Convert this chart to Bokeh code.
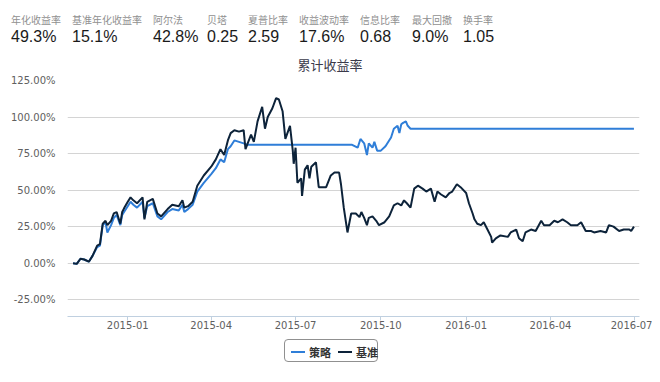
import pandas as pd
from bokeh.plotting import figure
from bokeh.models import (FixedTicker, Div, Range1d, ColumnDataSource)
from bokeh.layouts import column
from bokeh.embed import file_html
from bokeh.resources import INLINE

# ---------------- data ----------------
metric_names = ["年化收益率", "基准年化收益率", "阿尔法", "贝塔", "夏普比率", "收益波动率", "信息比率", "最大回撤", "换手率"]
metric_values = ["49.3%", "15.1%", "42.8%", "0.25", "2.59", "17.6%", "0.68", "9.0%", "1.05"]

chart_title = "累计收益率"
series_names = ["策略", "基准"]
series_colors = ["#2f7ed8", "#0d233a"]

strategy_dates = [
    "2014-11-03", "2014-11-07", "2014-11-11", "2014-11-15", "2014-11-20", "2014-11-24", "2014-11-29",
    "2014-12-02", "2014-12-05", "2014-12-08", "2014-12-10", "2014-12-14", "2014-12-17", "2014-12-20",
    "2014-12-24", "2014-12-26", "2014-12-28", "2015-01-01", "2015-01-04", "2015-01-07", "2015-01-11",
    "2015-01-17", "2015-01-19", "2015-01-22", "2015-01-28", "2015-02-02", "2015-02-06", "2015-02-13",
    "2015-02-18", "2015-02-25", "2015-03-01", "2015-03-03", "2015-03-07", "2015-03-12", "2015-03-17",
    "2015-03-24", "2015-04-01", "2015-04-06", "2015-04-11", "2015-04-15", "2015-04-19", "2015-04-22",
    "2015-04-26", "2015-05-01", "2015-05-06", "2015-05-10", "2015-08-31", "2015-09-06", "2015-09-09",
    "2015-09-13", "2015-09-16", "2015-09-18", "2015-09-22", "2015-09-24", "2015-09-27", "2015-10-01",
    "2015-10-06", "2015-10-12", "2015-10-15", "2015-10-19", "2015-10-21", "2015-10-23", "2015-10-25",
    "2015-10-28", "2015-10-30", "2015-11-02", "2016-06-30",
]
strategy_values = [
    0, -0.5, 3, 2.5, 1, 5, 11,
    12, 26, 28, 21, 26, 31, 33,
    26, 33, 35, 39, 42, 40, 38,
    42, 31, 39, 41, 32, 30, 35,
    37, 36, 40, 35, 37, 40, 49,
    55, 61, 65, 71, 69, 78, 80,
    84, 83, 82, 81, 81, 79, 85,
    82, 74, 82, 79, 83, 77, 77,
    80, 86, 92, 94, 89, 95, 96,
    97, 94, 92, 92,
]

benchmark_dates = [
    "2014-11-03", "2014-11-07", "2014-11-11", "2014-11-15", "2014-11-20", "2014-11-24", "2014-11-29",
    "2014-12-02", "2014-12-05", "2014-12-08", "2014-12-10", "2014-12-14", "2014-12-17", "2014-12-20",
    "2014-12-24", "2014-12-26", "2014-12-28", "2015-01-01", "2015-01-04", "2015-01-07", "2015-01-11",
    "2015-01-17", "2015-01-19", "2015-01-22", "2015-01-28", "2015-02-02", "2015-02-06", "2015-02-13",
    "2015-02-18", "2015-02-25", "2015-03-01", "2015-03-03", "2015-03-07", "2015-03-12", "2015-03-17",
    "2015-03-24", "2015-04-01", "2015-04-06", "2015-04-11", "2015-04-15", "2015-04-19", "2015-04-22",
    "2015-04-26", "2015-05-01", "2015-05-06", "2015-05-08", "2015-05-14", "2015-05-17", "2015-05-21",
    "2015-05-26", "2015-05-29", "2015-06-01", "2015-06-06", "2015-06-10", "2015-06-13", "2015-06-17",
    "2015-06-20", "2015-06-25", "2015-06-28", "2015-06-29", "2015-07-01", "2015-07-03", "2015-07-07",
    "2015-07-08", "2015-07-11", "2015-07-14", "2015-07-16", "2015-07-18", "2015-07-23", "2015-07-26",
    "2015-08-03", "2015-08-08", "2015-08-12", "2015-08-17", "2015-08-19", "2015-08-22", "2015-08-26",
    "2015-08-30", "2015-09-04", "2015-09-08", "2015-09-10", "2015-09-13", "2015-09-16", "2015-09-18",
    "2015-09-22", "2015-09-26", "2015-09-29", "2015-10-05", "2015-10-10", "2015-10-15", "2015-10-19",
    "2015-10-23", "2015-10-26", "2015-10-29", "2015-11-02", "2015-11-06", "2015-11-10", "2015-11-15",
    "2015-11-19", "2015-11-24", "2015-11-28", "2015-12-01", "2015-12-05", "2015-12-10", "2015-12-14",
    "2015-12-17", "2015-12-22", "2015-12-26", "2016-01-01", "2016-01-04", "2016-01-08", "2016-01-10",
    "2016-01-13", "2016-01-17", "2016-01-20", "2016-01-24", "2016-01-28", "2016-01-29", "2016-02-02",
    "2016-02-07", "2016-02-15", "2016-02-18", "2016-02-24", "2016-02-27", "2016-03-02", "2016-03-05",
    "2016-03-11", "2016-03-16", "2016-03-22", "2016-03-25", "2016-03-31", "2016-04-05", "2016-04-09",
    "2016-04-14", "2016-04-19", "2016-04-23", "2016-04-30", "2016-05-04", "2016-05-09", "2016-05-15",
    "2016-05-18", "2016-05-25", "2016-05-31", "2016-06-03", "2016-06-08", "2016-06-14", "2016-06-19",
    "2016-06-25", "2016-06-27", "2016-06-30",
]
benchmark_values = [
    0, -0.5, 3, 2.5, 1, 5, 12,
    13, 27, 29, 26, 29, 34, 35,
    27, 35, 37.5, 42, 45, 43, 41,
    45, 30, 42, 44, 34, 32, 37,
    40, 39, 43, 38, 39, 42, 53,
    60, 66, 71, 78, 74, 84, 89,
    91, 90, 91, 78, 88, 83, 97,
    107, 92, 100, 106, 113, 112, 104,
    85, 94, 77, 68, 79, 55, 58,
    46, 64, 67, 58, 66, 69, 52,
    52, 60, 62, 62, 54, 38, 21,
    34, 34, 31.5, 35, 31, 26, 31,
    32, 29, 26, 28, 32, 39.5, 41,
    39.5, 43, 41, 38, 51, 53, 51,
    49, 51, 42, 49, 47, 45, 48,
    49, 54, 52, 48, 41, 34, 30,
    27, 26, 28, 23, 18, 14, 17,
    19, 18, 21, 23, 17, 15, 21,
    23, 22, 29, 26, 26, 29, 28,
    30, 28, 26, 26, 28, 22, 22,
    21, 22, 21, 26, 25, 22, 23,
    23, 22, 25,
]

x_tick_dates = ["2015-01-01", "2015-04-01", "2015-07-01", "2015-10-01", "2016-01-01", "2016-04-01", "2016-07-01"]
x_tick_labels = ["2015-01", "2015-04", "2015-07", "2015-10", "2016-01", "2016-04", "2016-07"]
y_ticks = [-25, 0, 25, 50, 75, 100, 125]
y_tick_labels = ["-25.00%", "0.00%", "25.00%", "50.00%", "75.00%", "100.00%", "125.00%"]
x_start, x_end = "2014-10-28", "2016-07-06"
y_start, y_end = -36.5, 125

# ---------------- header (metrics + title) ----------------
lefts = [3, 64, 145, 199, 240, 291, 352, 404, 455]
spans = []
for name, val, lx in zip(metric_names, metric_values, lefts):
    spans.append(
        f'<span style="position:absolute;left:{lx}px;top:6px;font-size:10px;color:#909090;'
        f'font-family:\'Noto Sans CJK SC\',sans-serif;white-space:nowrap;line-height:12px;">{name}</span>'
        f'<span style="position:absolute;left:{lx}px;top:20px;font-size:16px;color:#1a1a1a;'
        f'font-family:\'Liberation Sans\',Arial,sans-serif;white-space:nowrap;line-height:18px;">{val}</span>'
    )
spans.append(
    f'<span style="position:absolute;left:0px;width:644px;top:49px;text-align:center;font-size:13px;'
    f'color:#3a3a4a;font-family:\'Noto Sans CJK SC\',sans-serif;line-height:16px;">{chart_title}</span>'
)
header = Div(text='<div style="position:relative;width:644px;height:66px;">' + "".join(spans) + "</div>",
             width=644, height=66, margin=0)

# ---------------- figure ----------------
def ms(d):
    return pd.to_datetime(d).value // 10**6

p = figure(width=644, height=262, frame_width=572, frame_height=236,
           x_axis_type="datetime", output_backend="svg",
           toolbar_location=None, min_border_left=59, min_border_right=13,
           min_border_top=6, min_border_bottom=20, margin=0,
           x_range=Range1d(ms(x_start), ms(x_end)), y_range=Range1d(y_start, y_end))
p.outline_line_color = None
p.background_fill_color = "white"
p.border_fill_color = "white"

src_s = ColumnDataSource(dict(x=[ms(d) for d in strategy_dates], y=strategy_values))
src_b = ColumnDataSource(dict(x=[ms(d) for d in benchmark_dates], y=benchmark_values))
p.line("x", "y", source=src_s, line_color=series_colors[0], line_width=2)
p.line("x", "y", source=src_b, line_color=series_colors[1], line_width=2)

p.xaxis.ticker = FixedTicker(ticks=[ms(d) for d in x_tick_dates])
p.xaxis.major_label_overrides = {ms(d): lab for d, lab in zip(x_tick_dates, x_tick_labels)}
p.xaxis.axis_line_color = "#c0d0e0"
p.xaxis.major_tick_line_color = "#c0d0e0"
p.xaxis.major_tick_out = 4
p.xaxis.major_tick_in = 0
p.xaxis.minor_tick_line_color = None
p.xaxis.major_label_standoff = 0
p.xaxis.major_label_text_font = "DejaVu Sans"
p.xaxis.major_label_text_font_size = "10px"
p.xaxis.major_label_text_color = "#606060"

p.yaxis.ticker = FixedTicker(ticks=y_ticks)
p.yaxis.major_label_overrides = {t: lab for t, lab in zip(y_ticks, y_tick_labels)}
p.yaxis.axis_line_color = None
p.yaxis.major_tick_line_color = None
p.yaxis.minor_tick_line_color = None
p.yaxis.major_label_standoff = 6
p.yaxis.major_label_text_font = "DejaVu Sans"
p.yaxis.major_label_text_font_size = "10px"
p.yaxis.major_label_text_color = "#606060"

p.xgrid.grid_line_color = None
p.ygrid.grid_line_color = "#d4d4d4"
p.ygrid.grid_line_width = 1

# ---------------- legend (HTML box below the chart) ----------------
items = ""
for name, col in zip(series_names, series_colors):
    items += (f'<span style="display:inline-block;width:14px;height:2px;background:{col};'
              f'vertical-align:middle;margin-right:4px;"></span>'
              f'<span style="vertical-align:middle;margin-right:7px;">{name}</span>')
legend_div = Div(
    text=('<div style="position:relative;width:644px;height:36px;">'
          '<div style="position:absolute;left:276px;top:3px;width:94px;height:23px;box-sizing:border-box;'
          'border:1px solid #909090;border-radius:4px;background:#fff;padding-left:6px;'
          'font-family:\'Noto Sans CJK SC\',sans-serif;font-size:11px;font-weight:600;color:#333;'
          f'line-height:21px;white-space:nowrap;">{items}</div></div>'),
    width=644, height=36, margin=0)

layout = column(header, p, legend_div, spacing=0, margin=(8, 0, 0, 8))
open("out.html", "w").write(file_html(layout, INLINE))
